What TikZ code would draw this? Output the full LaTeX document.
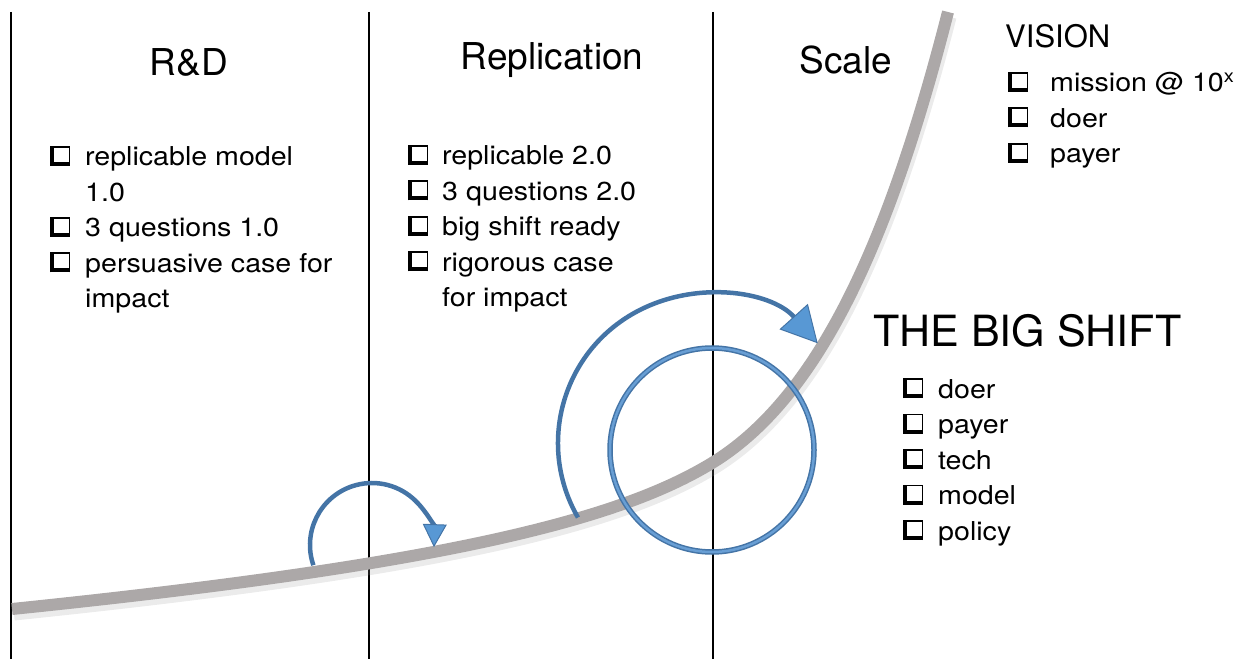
\documentclass[tikz,border=0pt]{standalone}
\usepackage{fontspec}
\setmainfont{TeX Gyre Heros}
\newfontfamily\listfont{TeX Gyre Heros}[FakeStretch=1.1]
\usetikzlibrary{arrows.meta, positioning}

\definecolor{curvegray}{RGB}{172,168,168}
\definecolor{arcblue}{RGB}{68,116,166}
\definecolor{headblue}{RGB}{88,152,212}
\definecolor{ringblue}{RGB}{104,158,212}

% shadowed check box
\newcommand{\chk}{\makebox[22pt][l]{%
  \rlap{\rule{4pt}{20pt}}%
  \rlap{\rule{20pt}{4pt}}%
  \rlap{\raisebox{18.4pt}{\rule{20pt}{1.6pt}}}%
  \hspace{18.4pt}\rule{1.6pt}{20pt}}}

\begin{document}
\begin{tikzpicture}[x=1pt, y=1pt,
  phase/.style={draw=black, line width=2pt},
  trend/.style={draw=curvegray, line width=12pt},
  trendshadow/.style={draw=black!40, line width=13pt, opacity=0.2},
  turn/.style={draw=arcblue, line width=4.5pt},
  ring/.style={draw=arcblue, double=ringblue, double distance=2.5pt, line width=1.5pt},
  head/.style={inner sep=0pt, anchor=base, font=\fontsize{37}{40}\selectfont},
  list/.style={inner sep=0pt, anchor=base west, font=\listfont\fontsize{26}{35.5}\selectfont}]
\useasboundingbox (0,0) rectangle (1238,659);

% phase borders
\foreach \x in {11,369,713}
  \draw[phase] (\x,647) -- (\x,0);

% the growth curve
\draw[trendshadow, shift={(2,-5)}] (12,50) .. controls (450,95) and (620,140) .. (712,196)
  .. controls (820,262) and (890,420) .. (948,647);
\draw[trend] (12,50) .. controls (450,95) and (620,140) .. (712,196)
  .. controls (820,262) and (890,420) .. (948,647);

% loops
\draw[turn, -{Triangle[length=23pt, width=24pt, fill=headblue, line width=1pt]}]
  (372,114) ++(199:62) arc[start angle=199, end angle=-2, radius=62];
\draw[turn, -{Triangle[length=36pt, width=38pt, fill=headblue, line width=1pt]}]
  (707,216) ++(210:149) arc[start angle=210, end angle=42, radius=149];
\draw[ring] (712,209) circle[radius=102];

% phase titles
\node[head] (rd)    at (189,583) {R\&D};
\node[head] (repl)  at (552,589) {Replication};
\node[head] (scale) at (846,585) {Scale};

\node[list] (rdlist) at (50,493) {\begin{tabular}[t]{@{}l@{\hspace{13pt}}l@{}}
  \chk & replicable model\\
       & 1.0\\
  \chk & 3 questions 1.0\\
  \chk & persuasive case for\\
       & impact
\end{tabular}};

\node[list] (repllist) at (408,494) {\begin{tabular}[t]{@{}l@{\hspace{12pt}}l@{}}
  \chk & replicable 2.0\\
  \chk & 3 questions 2.0\\
  \chk & big shift ready\\
  \chk & rigorous case\\
       & for impact
\end{tabular}};

% vision
\node[inner sep=0pt, anchor=base west, font=\fontsize{31}{34}\selectfont] (vision) at (1005,611) {VISION};
\node[list] (visionlist) at (1008,567) {\begin{tabular}[t]{@{}l@{\hspace{20pt}}l@{}}
  \chk & mission @ 10\textsuperscript{x}\\
  \chk & doer\\
  \chk & payer
\end{tabular}};

% the big shift
\node[inner sep=0pt, anchor=base west, font=\fontsize{43}{46}\selectfont] (shift) at (873,312) {THE BIG SHIFT};
\node[list] (shiftlist) at (903,261) {\begin{tabular}[t]{@{}l@{\hspace{13pt}}l@{}}
  \chk & doer\\
  \chk & payer\\
  \chk & tech\\
  \chk & model\\
  \chk & policy
\end{tabular}};
\end{tikzpicture}
\end{document}
